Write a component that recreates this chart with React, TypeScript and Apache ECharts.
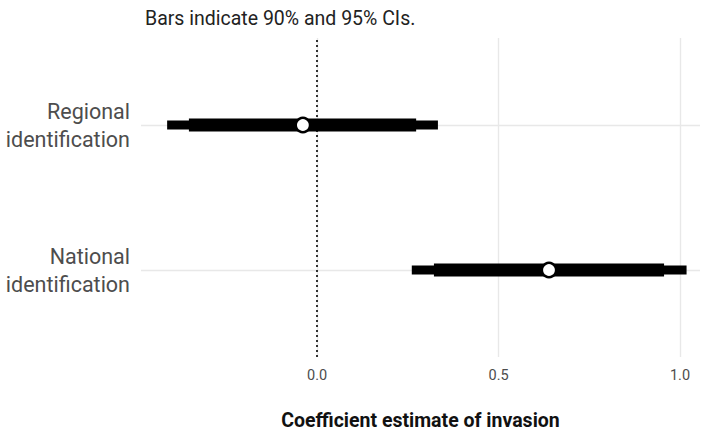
import React, { useEffect, useRef } from "react";
import * as echarts from "echarts";

const categories = ["Regional\nidentification", "National\nidentification"];
const estimates = [-0.039, 0.639];
const ci90Low = [-0.353, 0.322];
const ci90High = [0.273, 0.956];
const ci95Low = [-0.413, 0.261];
const ci95High = [0.333, 1.018];
const xTicks = [0, 0.5, 1];
const xTickLabels = ["0.0", "0.5", "1.0"];
const refLine = 0;

const FONT = "Roboto, 'Liberation Sans', sans-serif";

export default function App() {
  const ref = useRef<HTMLDivElement>(null);
  useEffect(() => {
    if (!ref.current) return;
    const chart = echarts.init(ref.current, undefined, { renderer: "svg" });
    const n = categories.length;
    const yVals = categories.map((_, i) => n - i);
    const data = categories.map((_, i) => [
      ci95Low[i],
      ci95High[i],
      ci90Low[i],
      ci90High[i],
      estimates[i],
      yVals[i],
    ]);
    chart.setOption({
      animation: false,
      title: {
        text: "Bars indicate 90% and 95% CIs.",
        left: 140,
        top: 3,
        textStyle: { fontFamily: FONT, fontSize: 19.5, fontWeight: "normal", color: "#222" },
      },
      grid: { left: 141, right: 1, top: 38, bottom: 78 },
      xAxis: {
        type: "value",
        min: -0.485,
        max: 1.055,
        name: "Coefficient estimate of invasion",
        nameLocation: "middle",
        nameGap: 53,
        nameTextStyle: { fontFamily: FONT, fontSize: 19.5, fontWeight: "bold", color: "#111" },
        axisLine: { show: false },
        axisTick: { show: false, customValues: xTicks },
        splitLine: { show: true, lineStyle: { color: "#e8e8e8", width: 1.4 } },
        axisLabel: {
          customValues: xTicks,
          margin: 11,
          fontFamily: FONT,
          fontSize: 14.5,
          color: "#4d4d4d",
          formatter: (v: number) => {
            const idx = xTicks.findIndex((t) => Math.abs(t - v) < 1e-9);
            return idx >= 0 ? xTickLabels[idx] : "";
          },
        },
      },
      yAxis: {
        type: "value",
        min: 0.4,
        max: n + 0.6,
        axisLine: { show: false },
        axisTick: { show: false, customValues: yVals },
        splitLine: { show: true, lineStyle: { color: "#e8e8e8", width: 1.4 } },
        axisLabel: {
          customValues: yVals,
          margin: 11,
          align: "right",
          fontFamily: FONT,
          fontSize: 21.5,
          lineHeight: 28,
          color: "#4d4d4d",
          formatter: (v: number) => {
            const idx = yVals.findIndex((t) => Math.abs(t - v) < 1e-9);
            return idx >= 0 ? categories[idx] : "";
          },
        },
      },
      series: [
        {
          type: "line",
          data: [],
          z: 1,
          markLine: {
            silent: true,
            symbol: "none",
            label: { show: false },
            lineStyle: { color: "#000", width: 1.6, type: [2, 3] },
            data: [{ xAxis: refLine }],
          },
        },
        {
          type: "custom",
          z: 5,
          data,
          encode: { x: [0, 1, 2, 3, 4], y: 5 },
          renderItem: (params: any, api: any) => {
            const y = api.value(5);
            const a95 = api.coord([api.value(0), y]);
            const b95 = api.coord([api.value(1), y]);
            const a90 = api.coord([api.value(2), y]);
            const b90 = api.coord([api.value(3), y]);
            const e = api.coord([api.value(4), y]);
            return {
              type: "group",
              children: [
                {
                  type: "rect",
                  shape: { x: a95[0], y: a95[1] - 4.5, width: b95[0] - a95[0], height: 9 },
                  style: { fill: "#000" },
                },
                {
                  type: "rect",
                  shape: { x: a90[0], y: a90[1] - 6.5, width: b90[0] - a90[0], height: 13 },
                  style: { fill: "#000" },
                },
                {
                  type: "circle",
                  shape: { cx: e[0], cy: e[1], r: 7.2 },
                  style: { fill: "#fff", stroke: "#000", lineWidth: 2.6 },
                },
              ],
            };
          },
        },
      ],
    });
    return () => chart.dispose();
  }, []);
  return <div ref={ref} style={{ width: 701, height: 435, position: "absolute", left: 0, top: 0 }} />;
}
